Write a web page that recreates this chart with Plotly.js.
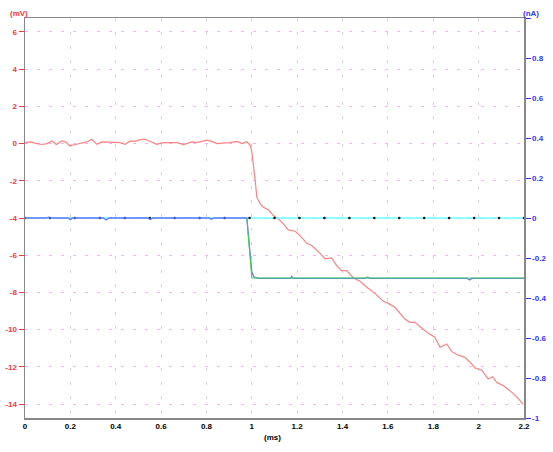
<!DOCTYPE html>
<html>
<head>
<meta charset="utf-8">
<script src="https://cdn.plot.ly/plotly-3.0.1.min.js"></script>
<style>html,body{margin:0;padding:0;background:#fff;}#chart{width:553px;height:452px;}</style>
</head>
<body>
<div id="chart"></div>
<script>
// Voltage trace (mV, left axis)
const redT = [0, 0.023, 0.053, 0.075, 0.097, 0.119, 0.138, 0.163, 0.178, 0.197, 0.222, 0.251, 0.273, 0.295, 0.317, 0.339, 0.383, 0.420, 0.442, 0.464, 0.486, 0.508, 0.530, 0.552, 0.581, 0.611, 0.640, 0.670, 0.699, 0.736, 0.758, 0.802, 0.824, 0.846, 0.882, 0.904, 0.934, 0.956, 0.978, 0.993, 1.0, 1.004, 1.015, 1.022, 1.037, 1.051, 1.073, 1.095, 1.117, 1.139, 1.161, 1.191, 1.213, 1.242, 1.264, 1.301, 1.323, 1.352, 1.374, 1.396, 1.418, 1.448, 1.477, 1.507, 1.543, 1.580, 1.602, 1.631, 1.653, 1.675, 1.697, 1.719, 1.749, 1.778, 1.807, 1.830, 1.859, 1.881, 1.903, 1.940, 1.969, 1.984, 2.013, 2.042, 2.062, 2.079, 2.108, 2.138, 2.167, 2.196];
const redV = [0.05, 0.09, 0.0, -0.05, 0.0, 0.14, -0.05, 0.14, 0.09, -0.12, -0.05, 0.05, 0.09, 0.23, -0.04, 0.09, 0.09, 0.05, -0.04, 0.14, 0.12, 0.21, 0.23, 0.12, -0.04, 0.05, 0.04, 0.05, -0.05, 0.09, 0.05, 0.18, 0.12, 0.0, 0.04, 0.05, 0.12, 0.0, 0.1, -0.09, -0.45, -0.8, -1.99, -2.88, -3.24, -3.42, -3.56, -3.87, -4.05, -4.32, -4.64, -4.71, -4.95, -5.36, -5.48, -5.90, -6.20, -6.15, -6.56, -6.83, -6.83, -7.22, -7.40, -7.72, -8.05, -8.48, -8.59, -8.80, -9.12, -9.43, -9.61, -9.61, -9.91, -10.20, -10.41, -10.95, -10.77, -11.17, -11.34, -11.49, -11.84, -12.06, -12.17, -12.65, -12.53, -12.83, -13.01, -13.28, -13.60, -14.0];

// Current traces (nA, right axis)
const blueT = [0, 0.095, 0.104, 0.113, 0.19, 0.2, 0.21, 0.345, 0.358, 0.371, 0.54, 0.552, 0.564, 0.81, 0.822, 0.834, 0.978, 0.99, 1.0, 1.01, 1.03, 1.17, 1.176, 1.182, 1.5, 1.51, 1.52, 1.95, 1.96, 1.97, 2.2];
const blueI = [0, 0, 0.004, 0, 0, -0.008, 0, 0, -0.01, 0, 0, -0.008, 0, 0, -0.006, 0, 0, -0.15, -0.27, -0.295, -0.302, -0.302, -0.292, -0.302, -0.302, -0.296, -0.302, -0.302, -0.31, -0.302, -0.302];
const greenT = [0.978, 1.0, 2.2];
const greenI = [0, -0.3, -0.3];
const cyanT = [0, 0.11, 0.22, 0.33, 0.44, 0.55, 0.66, 0.77, 0.88, 0.99, 1.1, 1.21, 1.32, 1.43, 1.54, 1.65, 1.76, 1.87, 1.98, 2.09, 2.2];
const cyanI = [0, 0, 0, 0, 0, 0, 0, 0, 0, 0, 0, 0, 0, 0, 0, 0, 0, 0, 0, 0, 0];

// Tick labels
const xTicks = [0, 0.2, 0.4, 0.6, 0.8, 1, 1.2, 1.4, 1.6, 1.8, 2, 2.2];
const xLabels = ["0", "0.2", "0.4", "0.6", "0.8", "1", "1.2", "1.4", "1.6", "1.8", "2", "2.2"];
const yTicks = [-14, -12, -10, -8, -6, -4, -2, 0, 2, 4, 6];
const yLabels = ["-14", "-12", "-10", "-8", "-6", "-4", "-2", "0", "2", "4", "6"];
const y2Ticks = [-1, -0.8, -0.6, -0.4, -0.2, 0, 0.2, 0.4, 0.6, 0.8, 1];
const y2Labels = ["-1", "-0.8", "-0.6", "-0.4", "-0.2", "0", "0.2", "0.4", "0.6", "0.8", ""];

const traces = [
  {x: cyanT, y: cyanI, yaxis: 'y2', mode: 'lines+markers', line: {color: '#66ffff', width: 1.3},
   marker: {color: '#000000', size: 2.5}, hoverinfo: 'skip'},
  {x: blueT, y: blueI, yaxis: 'y2', mode: 'lines', line: {color: '#6677ff', width: 1.3}, hoverinfo: 'skip'},
  {x: greenT, y: greenI, yaxis: 'y2', mode: 'lines', line: {color: '#44cc55', width: 1.1}, hoverinfo: 'skip'},
  {x: redT, y: redV, yaxis: 'y', mode: 'lines', line: {color: '#ff8080', width: 1.2}, hoverinfo: 'skip'}
];

const tickFont = {family: 'Liberation Sans, Arial, sans-serif', size: 8, weight: 'bold'};

const layout = {
  width: 553, height: 452,
  margin: {l: 25, r: 29, t: 18, b: 34},
  paper_bgcolor: '#ffffff', plot_bgcolor: '#ffffff',
  showlegend: false,
  xaxis: {
    range: [0, 2.2], tickvals: xTicks, ticktext: xLabels,
    showline: true, linecolor: '#888888', linewidth: 1.5, mirror: true,
    showgrid: true, gridcolor: '#d0d0d0', gridwidth: 1, griddash: '3px,11px',
    ticks: '', zeroline: false, tickfont: Object.assign({color: '#000000'}, tickFont)
  },
  yaxis: {
    range: [-14.75, 6.75], tickvals: yTicks, ticktext: yLabels,
    showline: true, linecolor: '#888888', linewidth: 1.5,
    showgrid: true, gridcolor: '#ffaaff', gridwidth: 1, griddash: '3px,9px',
    ticks: 'outside', ticklen: 5, tickcolor: '#ff3333', tickwidth: 1,
    zeroline: false, tickfont: Object.assign({color: '#ff3333'}, tickFont)
  },
  yaxis2: {
    range: [-1, 1], tickvals: y2Ticks, ticktext: y2Labels,
    overlaying: 'y', side: 'right',
    showline: true, linecolor: '#888888', linewidth: 1.5,
    showgrid: false, ticks: 'outside', ticklen: 5, tickcolor: '#3333ff', tickwidth: 1,
    zeroline: false, tickfont: Object.assign({color: '#3333ff'}, tickFont)
  },
  annotations: [
    {text: '(mV)', xref: 'paper', yref: 'paper', x: -0.012, y: 1.0125, xanchor: 'center', yanchor: 'middle', showarrow: false,
     font: Object.assign({}, tickFont, {color: '#ff3333'})},
    {text: '(nA)', xref: 'paper', yref: 'paper', x: 1.0146, y: 1.0125, xanchor: 'center', yanchor: 'middle', showarrow: false,
     font: Object.assign({}, tickFont, {color: '#3333ff'})},
    {text: '(ms)', xref: 'paper', yref: 'paper', x: 0.495, y: -0.0475, xanchor: 'center', yanchor: 'middle', showarrow: false,
     font: Object.assign({}, tickFont, {color: '#000000'})}
  ]
};

Plotly.newPlot('chart', traces, layout, {displayModeBar: false, staticPlot: true});
</script>
</body>
</html>
